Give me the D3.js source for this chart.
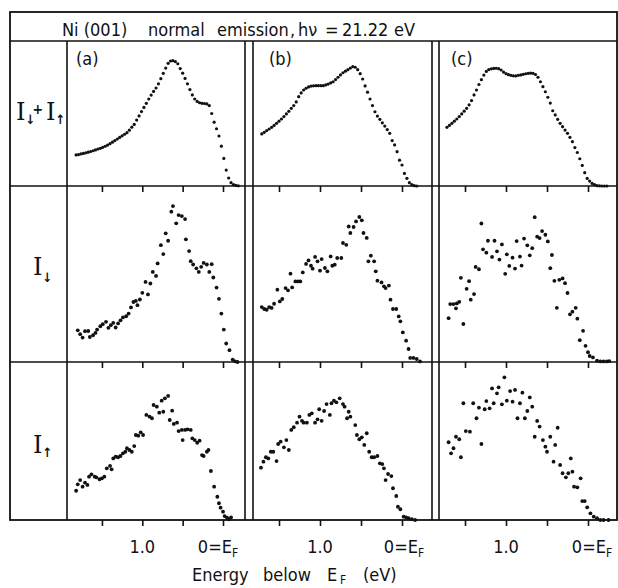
<!DOCTYPE html>
<html><head><meta charset="utf-8">
<script src="https://cdn.jsdelivr.net/npm/d3@7/dist/d3.min.js"></script>
<style>body{margin:0;background:#fff}svg{display:block}</style>
</head><body><svg id="chart" width="618" height="588"></svg>
<script>
// ---------- data (energy below E_F in eV, intensity in % of row height) ----------
const energyTicks = [1.5, 1.0, 0.5, 0];
const tickLabelMain = {1: "1.0", 0: "0=E"};
const panelNames = ["(a)", "(b)", "(c)"];
const titleParts = ["Ni (001)", "normal", "emission", ",", "hν", "=", "21.22", "eV"];
const xLabel = ["Energy", "below", "E", "F", "(eV)"];

const sumA = [[1.82,21.4],[1.79,21.7],[1.76,22.1],[1.73,22.5],[1.70,22.9],[1.67,23.3],[1.64,23.8],[1.61,24.3],[1.58,24.9],[1.55,25.5],[1.52,26.0],[1.49,26.7],[1.46,27.4],[1.43,28.2],[1.40,29.2],[1.37,30.2],[1.34,31.3],[1.31,32.4],[1.28,33.5],[1.25,34.6],[1.22,35.7],[1.19,36.8],[1.16,38.5],[1.13,40.6],[1.10,42.5],[1.07,45.5],[1.04,48.3],[1.01,51.3],[0.98,54.2],[0.95,57],[0.92,60],[0.89,62.7],[0.86,65.2],[0.83,67.6],[0.80,70.5],[0.77,74],[0.74,77.7],[0.71,81.3],[0.68,84.6],[0.65,86.2],[0.62,86.4],[0.59,85.8],[0.56,84.3],[0.53,81],[0.50,77.8],[0.47,74.2],[0.44,70.5],[0.41,66.5],[0.38,62.8],[0.35,60],[0.32,58.3],[0.29,57.4],[0.26,57],[0.23,56.9],[0.20,56.6],[0.17,55.5],[0.14,50],[0.11,44],[0.08,39.5],[0.05,34.5],[0.02,27.5],[-0.01,19],[-0.04,11],[-0.07,5.5],[-0.10,2.3],[-0.13,1.0],[-0.16,0.4],[-0.19,0.1]];
const sumB = [[1.71,35.9],[1.68,37.0],[1.65,38.2],[1.62,39.3],[1.59,40.5],[1.56,41.8],[1.53,43.2],[1.50,44.7],[1.47,46.2],[1.44,47.9],[1.41,49.7],[1.38,51.5],[1.35,53.6],[1.32,55.5],[1.29,58],[1.26,61.6],[1.23,64.2],[1.20,66.2],[1.17,67.4],[1.14,68.3],[1.11,68.9],[1.08,69.1],[1.05,69.2],[1.02,69.2],[0.99,69.2],[0.96,69.2],[0.93,69.7],[0.90,70.3],[0.87,71.1],[0.84,71.9],[0.81,73.4],[0.78,75],[0.75,76.6],[0.72,78.1],[0.69,79.2],[0.66,80.2],[0.63,81.3],[0.60,82.3],[0.57,81.9],[0.54,80.2],[0.51,77.5],[0.48,73.8],[0.45,69],[0.42,64.7],[0.39,60],[0.36,55.5],[0.33,51.2],[0.30,48.2],[0.27,46],[0.24,43.6],[0.21,41.3],[0.18,38.9],[0.15,36.3],[0.12,31.3],[0.09,28.3],[0.06,23.7],[0.03,17.8],[0.00,14.5],[-0.03,8.7],[-0.06,5.3],[-0.09,2.3],[-0.12,0.9],[-0.15,0.2],[-0.18,0]];
const sumC = [[1.72,40.5],[1.69,41.8],[1.66,43.2],[1.63,44.7],[1.60,46.2],[1.57,47.9],[1.54,49.7],[1.51,51.6],[1.48,53.6],[1.45,56],[1.42,58.9],[1.39,62.8],[1.36,66.2],[1.33,70],[1.30,73.3],[1.27,76.5],[1.24,79],[1.21,80.3],[1.18,80.8],[1.15,81.1],[1.12,81.2],[1.09,80.9],[1.06,80],[1.03,78.6],[1.00,77.5],[0.97,76.8],[0.94,76.3],[0.91,76],[0.88,75.9],[0.85,76.3],[0.82,76.6],[0.79,77],[0.76,77.4],[0.73,77.7],[0.70,77.8],[0.67,77.7],[0.64,76.9],[0.61,75],[0.58,71.9],[0.55,68.5],[0.52,65],[0.49,61.2],[0.46,57.2],[0.43,51.9],[0.40,49],[0.37,46],[0.34,43.2],[0.31,40.9],[0.28,38.6],[0.25,36.3],[0.22,33.6],[0.19,30.6],[0.16,26.5],[0.13,23.1],[0.10,18.8],[0.07,14.2],[0.04,9.2],[0.01,5.2],[-0.02,3.4],[-0.05,1.8],[-0.08,0.9],[-0.11,0.2],[-0.14,0.1],[-0.17,0],[-0.20,0],[-0.23,0]];

const downA = [[1.80,18.0],[1.77,15.8],[1.74,13.9],[1.71,17.5],[1.67,17.6],[1.65,14.2],[1.61,15.2],[1.58,16.5],[1.56,18.4],[1.52,20.3],[1.49,21.5],[1.45,22.8],[1.42,19.4],[1.39,20.9],[1.36,22.2],[1.33,19.6],[1.30,21.9],[1.27,23.7],[1.24,25.3],[1.20,26.0],[1.17,27.5],[1.14,31],[1.11,34.1],[1.08,34.7],[1.06,32.3],[1.03,35.5],[1.00,39.3],[0.96,45.5],[0.93,38.4],[0.90,44.6],[0.87,51.2],[0.83,48.9],[0.81,56],[0.77,66.4],[0.74,61.3],[0.71,73.1],[0.68,68.9],[0.64,85.4],[0.62,88.6],[0.58,78.8],[0.55,83.5],[0.51,82.9],[0.47,81.2],[0.46,69.7],[0.42,63],[0.40,57.3],[0.37,55.4],[0.33,53.2],[0.30,51.2],[0.27,54.1],[0.24,56.3],[0.20,55.4],[0.17,51.2],[0.14,55.6],[0.12,48],[0.08,42.3],[0.05,35.9],[0.02,27.5],[-0.01,18.4],[-0.04,10.5],[-0.08,6.7],[-0.12,1.4],[-0.15,0.4],[-0.18,0]];
const downB = [[1.71,31.2],[1.68,30.1],[1.65,29.7],[1.62,31.2],[1.59,30.7],[1.56,33.1],[1.52,41.1],[1.49,34.4],[1.46,35.8],[1.42,42],[1.39,40.7],[1.36,50.2],[1.34,42.4],[1.30,45.8],[1.27,45.8],[1.24,45.8],[1.21,50.9],[1.17,55.7],[1.14,57.7],[1.11,54.7],[1.09,53],[1.06,59.7],[1.03,57.2],[1.00,51.9],[0.98,58.5],[0.94,53.4],[0.91,51.5],[0.87,60],[0.85,54.7],[0.82,55.3],[0.79,59.1],[0.74,59.1],[0.72,67.6],[0.68,66.6],[0.65,77],[0.63,73.3],[0.59,76.7],[0.56,79.9],[0.52,82.4],[0.49,80.5],[0.47,73.3],[0.43,70.5],[0.41,57.2],[0.38,60.4],[0.34,57.2],[0.32,51.5],[0.30,46.2],[0.25,45.2],[0.22,43],[0.20,42],[0.16,43.4],[0.14,35.4],[0.11,30.1],[0.07,30.1],[0.04,25.9],[0.02,23.1],[-0.01,16.8],[-0.05,12.1],[-0.08,7.4],[-0.10,2.3],[-0.14,2.3],[-0.18,1.7],[-0.22,0.3]];
const downC = [[1.70,24.9],[1.68,32.9],[1.64,32.9],[1.61,30.5],[1.60,33.3],[1.57,34.2],[1.55,47.8],[1.52,21.6],[1.48,41.6],[1.45,45.9],[1.43,35.4],[1.39,38.6],[1.37,54],[1.33,52.7],[1.30,78.7],[1.28,64],[1.24,62.1],[1.22,68.9],[1.17,59.7],[1.14,68.9],[1.11,62.9],[1.08,58.2],[1.05,66.8],[1.01,50.1],[0.99,61.2],[0.96,54.6],[0.92,59.3],[0.89,53.1],[0.87,68.7],[0.83,59.9],[0.81,54.8],[0.78,70.1],[0.74,66.3],[0.71,60.6],[0.68,64.7],[0.65,82.3],[0.62,71.2],[0.59,70.4],[0.56,74.4],[0.52,72.3],[0.49,68.5],[0.46,53.3],[0.44,60.8],[0.41,46.1],[0.38,30.8],[0.35,46.7],[0.31,47.5],[0.28,44.8],[0.25,39.2],[0.22,27.1],[0.19,28.6],[0.15,30.8],[0.13,24.6],[0.10,12.4],[0.06,17.7],[0.03,9.2],[0.00,5.6],[-0.02,3.4],[-0.06,2.6],[-0.11,0.7],[-0.15,0.3],[-0.19,0.3],[-0.23,0.3],[-0.26,0.5]];

const upA = [[1.82,18.5],[1.80,22.6],[1.77,25.3],[1.74,21.1],[1.71,23.6],[1.68,22.2],[1.66,27.4],[1.63,28.9],[1.59,27.4],[1.57,27],[1.53,25.8],[1.50,26.4],[1.47,27.4],[1.44,32.7],[1.40,34.2],[1.38,32.1],[1.36,39],[1.33,40.1],[1.30,39.7],[1.27,40.5],[1.24,42.2],[1.21,43.2],[1.19,45.4],[1.16,44.3],[1.13,43.2],[1.10,46.8],[1.08,53.8],[1.05,53.4],[1.02,55.5],[0.99,53.8],[0.95,66.5],[0.91,65.4],[0.88,64.4],[0.86,72.8],[0.82,71.7],[0.79,67.9],[0.76,75.5],[0.74,68.5],[0.72,77],[0.68,78.5],[0.66,63.3],[0.63,69.2],[0.61,60.8],[0.57,61.6],[0.55,56.3],[0.51,57],[0.50,50.6],[0.47,57],[0.44,57.4],[0.40,57],[0.38,51.7],[0.35,50.6],[0.32,48.9],[0.29,50.2],[0.26,41.1],[0.24,40.5],[0.20,43.2],[0.18,44.3],[0.15,31],[0.11,21.1],[0.07,14.7],[0.05,10.6],[0.03,7.8],[0.00,5.3],[-0.02,2.5],[-0.05,1.5],[-0.07,0.4],[-0.10,1.7]];
const upB = [[1.72,33.1],[1.69,36.9],[1.66,39.7],[1.63,39],[1.60,43.2],[1.57,43.2],[1.53,37.3],[1.51,48.1],[1.48,49.6],[1.44,46],[1.41,50.6],[1.38,44.3],[1.35,57],[1.32,58.7],[1.28,61.6],[1.25,65.4],[1.22,62.8],[1.20,61.6],[1.16,61.6],[1.13,66.5],[1.10,67.5],[1.06,61.6],[1.03,63.7],[1.01,70.1],[0.98,62.8],[0.95,69],[0.92,73.4],[0.88,66.5],[0.86,73.9],[0.83,75.5],[0.80,74.5],[0.76,77],[0.72,73.4],[0.70,71.7],[0.67,64.4],[0.65,68.5],[0.63,65.4],[0.57,60.1],[0.55,53.8],[0.52,51.1],[0.49,52.3],[0.46,47.5],[0.43,54.9],[0.40,43.2],[0.37,39.7],[0.34,39.7],[0.30,40.5],[0.27,35.9],[0.24,35.4],[0.22,32.7],[0.20,25.3],[0.17,29.1],[0.13,27.8],[0.11,20.1],[0.07,15.2],[0.05,8.4],[0.02,6.8],[-0.02,2.1],[-0.05,1.7],[-0.08,1.1],[-0.12,0.6],[-0.16,0]];
const upC = [[1.70,49.2],[1.67,42.2],[1.64,45.4],[1.61,52.7],[1.57,51.1],[1.55,39.7],[1.52,73.9],[1.49,56.3],[1.44,55.9],[1.40,73.9],[1.36,64.4],[1.33,71.1],[1.30,48.1],[1.26,70.1],[1.24,75.3],[1.20,70.7],[1.17,83.3],[1.15,73.9],[1.11,80.2],[1.09,84],[1.05,73.2],[1.02,90.3],[0.99,75.5],[0.95,81.6],[0.92,74.9],[0.89,82.3],[0.86,64.4],[0.83,73.9],[0.80,80.6],[0.77,64.4],[0.74,69],[0.71,77.6],[0.68,71.7],[0.65,52.7],[0.62,62.7],[0.59,59.1],[0.55,50.6],[0.52,46.4],[0.50,43.2],[0.46,52.7],[0.42,36.9],[0.40,47.5],[0.37,58.4],[0.34,34.8],[0.31,29.6],[0.27,27],[0.24,29.6],[0.21,39],[0.19,30.6],[0.17,21.1],[0.13,20.7],[0.09,26.4],[0.07,12],[0.04,12],[0.01,8],[-0.03,4.2],[-0.07,2.1],[-0.11,1.1],[-0.15,0],[-0.19,0],[-0.25,0]];

const rowSeries = [[sumA, sumB, sumC], [downA, downB, downC], [upA, upB, upC]];

// ---------- layout ----------
const frame = {left: 10, right: 617, top: 12, titleBottom: 41, labelRight: 67, bottom: 520};
const panels = [
  {left: 67, right: 245, zero: 223, ppe: 80.7, efShift: -5},
  {left: 253, right: 432, zero: 402, ppe: 82, efShift: 2},
  {left: 439, right: 617, zero: 588, ppe: 82, efShift: 4}
];
const rows = [
  {top: 41, base: 186, r: 1.6},
  {top: 186, base: 362, r: 1.9},
  {top: 362, base: 520, r: 1.9}
];
const FONT = "'DejaVu Sans Condensed', 'DejaVu Sans', sans-serif";
const SERIF = "'DejaVu Serif', 'Liberation Serif', serif";

const svg = d3.select("#chart");
svg.append("rect").attr("width", 618).attr("height", 588).attr("fill", "#fff");
const ink = "#111";

// frame lines
const g = svg.append("g").attr("stroke", ink).attr("fill", "none");
g.append("rect").attr("x", frame.left).attr("y", frame.top)
  .attr("width", frame.right - frame.left).attr("height", frame.bottom - frame.top).attr("stroke-width", 1.8);
g.append("line").attr("x1", frame.left).attr("x2", frame.right).attr("y1", frame.titleBottom).attr("y2", frame.titleBottom).attr("stroke-width", 1.6);
rows.slice(1).forEach(r => g.append("line").attr("x1", frame.left).attr("x2", frame.right)
  .attr("y1", r.top).attr("y2", r.top).attr("stroke-width", 1.6));
const vlines = [frame.labelRight, panels[0].right, panels[1].left, panels[1].right, panels[2].left];
vlines.forEach(x => g.append("line").attr("x1", x).attr("x2", x)
  .attr("y1", frame.titleBottom).attr("y2", frame.bottom).attr("stroke-width", 1.6));

// title
const titleX = [62, 148, 217, 290, 298, 325, 342, 394];
titleParts.forEach((t, i) => svg.append("text").attr("x", titleX[i]).attr("y", 36)
  .attr("font-family", FONT).attr("font-size", 18).attr("fill", ink).text(t));

// panels
rows.forEach((row, ri) => {
  const y = d3.scaleLinear().domain([0, 100]).range([row.base, row.top]);
  panels.forEach((p, pi) => {
    const x = d3.scaleLinear().domain([0, 1]).range([p.zero, p.zero - p.ppe]);
    const ax = svg.append("g").attr("transform", `translate(0,${row.base})`)
      .call(d3.axisBottom(x).tickValues(energyTicks).tickSize(6).tickSizeOuter(0).tickFormat(""));
    ax.select(".domain").remove();
    ax.selectAll(".tick line").attr("stroke", ink).attr("stroke-width", 1.6);
    svg.append("g").selectAll("circle").data(rowSeries[ri][pi]).join("circle")
      .attr("cx", d => x(d[0])).attr("cy", d => y(d[1])).attr("r", row.r).attr("fill", ink);
    if (ri === 2) {
      [1, 0].forEach(v => {
        const t = svg.append("text").attr("x", x(v) + (v === 0 ? p.efShift : 0)).attr("y", 553).attr("text-anchor", "middle")
          .attr("font-family", FONT).attr("font-size", 18).attr("fill", ink).text(tickLabelMain[v]);
        if (v === 0) t.append("tspan").attr("font-size", 12).attr("dy", 4).text("F");
      });
    }
  });
});

// panel names
const nameX = [76, 269, 451];
panelNames.forEach((n, i) => svg.append("text").attr("x", nameX[i])
  .attr("y", 65).attr("font-family", FONT).attr("font-size", 18).attr("fill", ink).text(n));

// row labels
function bigI(x, yb) {
  svg.append("text").attr("x", x).attr("y", yb).attr("font-family", SERIF)
    .attr("font-size", 24).attr("fill", ink).text("I");
}
function arrow(x, yb, ch) {
  svg.append("text").attr("x", x).attr("y", yb).attr("font-family", FONT)
    .attr("font-size", 13).attr("font-weight", "bold").attr("fill", ink).text(ch);
}
bigI(16, 120); arrow(25.5, 124, "↓");
svg.append("text").attr("x", 32.5).attr("y", 114).attr("font-family", FONT).attr("font-size", 14)
  .attr("font-weight", "bold").attr("fill", ink).text("+");
bigI(46, 120); arrow(55.5, 124, "↑");
bigI(33, 275); arrow(42.5, 282, "↓");
bigI(33, 453); arrow(42.5, 457, "↑");

// x label
const xlX = [192, 263, 327, 340, 363];
[0, 1, 2, 4].forEach(i => svg.append("text").attr("x", xlX[i]).attr("y", 581)
  .attr("font-family", FONT).attr("font-size", 18).attr("fill", ink).text(xLabel[i]));
svg.append("text").attr("x", xlX[3]).attr("y", 584).attr("font-family", FONT)
  .attr("font-size", 12).attr("fill", ink).text(xLabel[3]);
</script></body></html>
